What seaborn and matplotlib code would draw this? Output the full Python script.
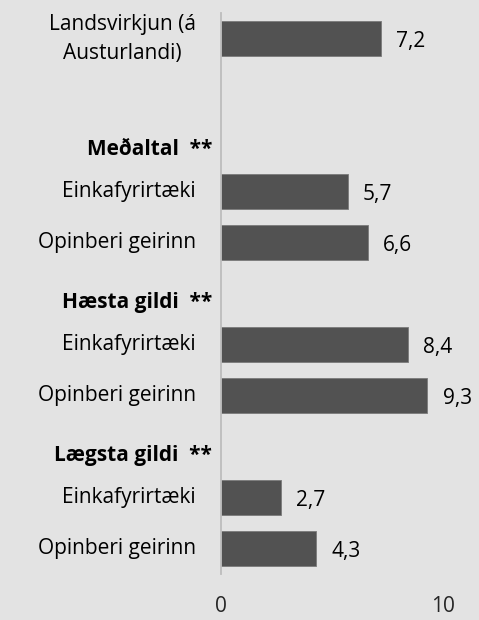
import matplotlib
matplotlib.use("Agg")
import matplotlib.pyplot as plt
import matplotlib.transforms as mtransforms
import seaborn as sns
import pandas as pd
import numpy as np

# Chart data (header rows have no value)
labels = [
    "Landsvirkjun (á\nAusturlandi)",
    "",
    "Meðaltal  **",
    "Einkafyrirtæki",
    "Opinberi geirinn",
    "Hæsta gildi  **",
    "Einkafyrirtæki",
    "Opinberi geirinn",
    "Lægsta gildi  **",
    "Einkafyrirtæki",
    "Opinberi geirinn",
]
is_header = [False, False, True, False, False, True, False, False, True, False, False]
values = [7.2, np.nan, np.nan, 5.7, 6.6, np.nan, 8.4, 9.3, np.nan, 2.7, 4.3]
x_ticks = [0, 10]

BG = "#e3e3e3"
BAR = "#525252"
FONT = ["Open Sans", "DejaVu Sans"]
FS = 15

sns.set_theme(style="white")
plt.rcParams["font.family"] = FONT

row_ids = [f"r{i}" for i in range(len(labels))]
df = pd.DataFrame({"row": row_ids, "value": values})

fig = plt.figure(figsize=(4.79, 6.20), dpi=100, facecolor=BG)
ax = fig.add_axes([0.4614, 0.0742, 0.4635, 0.9048])
ax.set_facecolor(BG)

sns.barplot(data=df.dropna(), x="value", y="row", order=row_ids, orient="h",
            color=BAR, saturation=1, width=0.7, edgecolor="#7a7a7a",
            linewidth=0.6, ax=ax)

for c in ax.containers:
    anns = ax.bar_label(c, fmt=lambda v: f"{v:.1f}".replace(".", ","),
                        padding=11, fontsize=FS, color="#000000")
    for a in anns:
        a.xyann = (11, -2)  # sit a touch below the bar centre

ax.set_xlim(0, 10)
ax.set_ylim(len(labels) - 0.5, -0.5)
ax.set_xticks(x_ticks)
ax.set_xticklabels([str(t) for t in x_ticks], fontsize=FS)
ax.tick_params(axis="x", length=0, pad=16)
ax.set_yticks([])
ax.set_xlabel("")
ax.set_ylabel("")

for s in ["top", "right", "bottom"]:
    ax.spines[s].set_visible(False)
ax.spines["left"].set_color("#bdbdbd")
ax.spines["left"].set_linewidth(1.3)

# category labels drawn left of the axis
blend = mtransforms.blended_transform_factory(ax.transAxes, ax.transData)
for i, (lab, hdr) in enumerate(zip(labels, is_header)):
    if not lab:
        continue
    off = -0.04 if hdr else -0.113
    ypos = i + 0.17 if hdr else i
    ax.text(off, ypos, lab, transform=blend, ha="right", va="center",
            multialignment="center", fontsize=FS, linespacing=1.5,
            fontweight="bold" if hdr else "normal", color="#000000")

fig.savefig("out.png", dpi=100, facecolor=BG)
